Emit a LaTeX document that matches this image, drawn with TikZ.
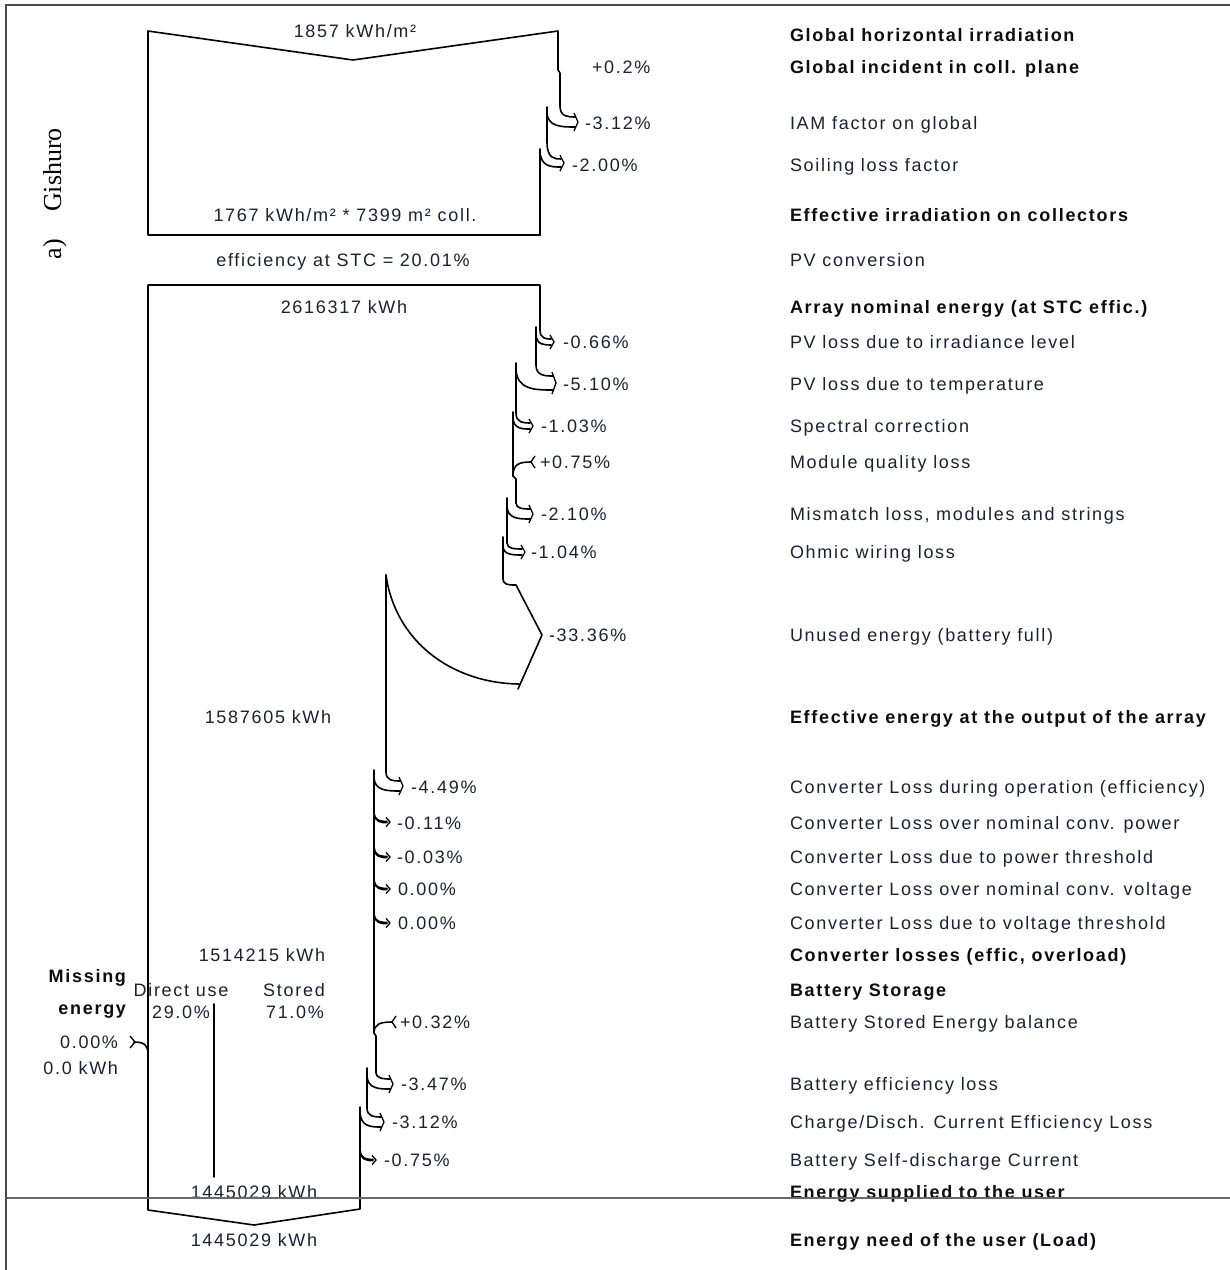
\documentclass[tikz,border=0pt]{standalone}
\usepackage{fontspec}
\setmainfont{Liberation Sans}[LetterSpace=9.5]
\newfontfamily\figlabelfont{Liberation Serif}
\definecolor{ink}{RGB}{30,32,50}
\definecolor{inkdark}{RGB}{12,12,18}
\definecolor{rulegray}{RGB}{105,105,105}
\definecolor{framegray}{RGB}{75,75,75}

% loss arrow: old edge x, y where it bends; new edge x, y where it bends;
% tip x, tip y, half width of the band at the tip
\newcommand\pvloss[7]{%
  \draw[flow] (#1,#2) .. controls (#1,{#6-#7}) and ({(#1+#5)/2},{#6-#7}) .. ({#5-2},{#6-#7});
  \draw[flow] (#3,#4) .. controls (#3,{#6+#7}) and ({(#3+#5)/2},{#6+#7}) .. ({#5-2},{#6+#7});
  \draw[tipline] ({#5-3},{#6-#7-4}) -- ({#5+1},#6) -- ({#5-3},{#6+#7+4});
}
% thin loss: a single bent line with a head
\newcommand\pvsmall[4]{\pvloss{#1}{#2}{#1}{#2}{#3}{#4}{0.6}}
% gain entering from the right: edge x, edge y, tip x, tip y
\newcommand\pvgain[4]{%
  \draw[flow] (#1,#2) .. controls (#1,{#4+2}) and ({#1+6},#4) .. (#3,#4);
  \draw[tipline] ({#3+4},{#4-6}) -- (#3,#4) -- ({#3+4},{#4+6});
}

\begin{document}
\begin{tikzpicture}[x=1pt,y=-1pt,
  flow/.style={line width=1.6pt, line join=round, line cap=round},
  tipline/.style={line width=1.3pt, line join=miter},
  txt/.style={inner sep=0pt, outer sep=0pt, text=ink, font=\fontsize{18}{21}\selectfont},
  bold/.style={txt, text=inkdark, font=\fontsize{18}{21}\selectfont\bfseries},
  lbl/.style={txt, anchor=base west},
  blbl/.style={bold, anchor=base west},
  val/.style={txt, anchor=base},
  side/.style={rotate=90, anchor=base, inner sep=0pt, text=black,
               font=\figlabelfont\fontsize{26}{29}\selectfont},
]
\fill[white] (0,0) rectangle (1230,1270);
\useasboundingbox (0,0) rectangle (1230,1270);

% panel caption
\node[side] (cap)  at (61,249) {a)};
\node[side] (site) at (61,170) {Gishuro};

% ---- irradiation block ----
\draw[flow] (540,235) -- (148,235) -- (148,31) -- (353,60) -- (558,31)
            -- (558,70) -- (560,73) -- (560,106);
\pvloss{560}{106}{547}{112}{577}{122}{5}
\draw[flow] (547,107) -- (547,142);
\pvloss{547}{142}{540}{150}{563}{163}{4}
\draw[flow] (540,149) -- (540,235);

% ---- energy block ----
\draw[flow] (540,330) -- (540,285) -- (148,285) -- (148,1210)
            -- (254,1225) -- (360,1209) -- (360,1107);
\pvloss{540}{330}{536}{334}{553}{342}{3}
\draw[flow] (536,327) -- (536,365);
\pvloss{536}{365}{516}{368}{555}{383}{7}
\draw[flow] (516,363) -- (516,413);
\pvloss{516}{413}{513}{417}{532}{426}{3}
\draw[flow] (513,412) -- (513,476) -- (516,479) -- (516,503);
\pvgain{513}{476}{531}{462}
\pvloss{516}{503}{507}{506}{532}{514}{5}
\draw[flow] (507,498) -- (507,543);
\pvloss{507}{543}{503}{546}{524}{552}{3}
\draw[flow] (503,537) -- (503,578);
% unused energy (battery full)
\draw[flow] (503,578) .. controls (503,585) and (508,585) .. (516,585)
            -- (542,635) -- (518,689);
\draw[flow] (386,575) .. controls (395,640) and (450,683) .. (519,684);
\draw[flow] (386,575) -- (386,772);
% converter losses
\pvloss{386}{772}{374}{777}{402}{786}{5}
\draw[flow] (374,770) -- (374,1033) -- (376,1036) -- (376,1072);
\pvsmall{374}{812}{389}{822}
\pvsmall{374}{846}{389}{857}
\pvsmall{374}{879}{389}{889}
\pvsmall{374}{913}{389}{923}
% battery
\pvgain{374}{1033}{392}{1022}
\pvloss{376}{1072}{367}{1075}{392}{1084}{5}
\draw[flow] (367,1068) -- (367,1108);
\pvloss{367}{1108}{360}{1111}{383}{1122}{5}
\pvsmall{360}{1149}{375}{1160}
% missing energy
\draw[flow] (148,1054) .. controls (148,1045) and (144,1042) .. (134,1042);
\draw[tipline] (130,1036) -- (135,1042) -- (130,1048);
% direct use
\draw[flow] (214,1004) -- (214,1177);

% ---- values inside the flow ----
\node[val] (v1) at (355,37)   {1857 kWh/m²};
\node[val] (v2) at (345,221)  {1767 kWh/m² * 7399 m² coll.};
\node[val] (v3) at (343,266)  {efficiency at STC = 20.01\%};
\node[val] (v4) at (344,313)  {2616317 kWh};
\node[val] (v5) at (268,723)  {1587605 kWh};
\node[val] (v6) at (262,961)  {1514215 kWh};
\node[val] (v7) at (254,1198) {1445029 kWh};
\node[val] (v8) at (254,1246) {1445029 kWh};

\node[bold, anchor=base east] (m1) at (126,982)  {Missing};
\node[bold, anchor=base east] (m2) at (126,1014) {energy};
\node[txt, anchor=base east]  (m3) at (118,1048) {0.00\%};
\node[txt, anchor=base east]  (m4) at (118,1074) {0.0 kWh};
\node[val] (d1) at (181,996)  {Direct use};
\node[val] (d2) at (181,1018) {29.0\%};
\node[val] (s1) at (294,996)  {Stored};
\node[val] (s2) at (295,1018) {71.0\%};

% ---- percentages ----
\node[lbl] (p1)  at (592,73)   {+0.2\%};
\node[lbl] (p2)  at (585,129)  {-3.12\%};
\node[lbl] (p3)  at (572,171)  {-2.00\%};
\node[lbl] (p4)  at (563,348)  {-0.66\%};
\node[lbl] (p5)  at (563,390)  {-5.10\%};
\node[lbl] (p6)  at (541,432)  {-1.03\%};
\node[lbl] (p7)  at (540,468)  {+0.75\%};
\node[lbl] (p8)  at (541,520)  {-2.10\%};
\node[lbl] (p9)  at (531,558)  {-1.04\%};
\node[lbl] (p10) at (549,641)  {-33.36\%};
\node[lbl] (p11) at (411,793)  {-4.49\%};
\node[lbl] (p12) at (397,829)  {-0.11\%};
\node[lbl] (p13) at (397,863)  {-0.03\%};
\node[lbl] (p14) at (398,895)  {0.00\%};
\node[lbl] (p15) at (398,929)  {0.00\%};
\node[lbl] (p16) at (400,1028) {+0.32\%};
\node[lbl] (p17) at (401,1090) {-3.47\%};
\node[lbl] (p18) at (392,1128) {-3.12\%};
\node[lbl] (p19) at (384,1166) {-0.75\%};

% ---- descriptions ----
\node[blbl] (t1)  at (790,41)   {Global horizontal irradiation};
\node[blbl] (t2)  at (790,73)   {Global incident in coll. plane};
\node[lbl]  (t3)  at (790,129)  {IAM factor on global};
\node[lbl]  (t4)  at (790,171)  {Soiling loss factor};
\node[blbl] (t5)  at (790,221)  {Effective irradiation on collectors};
\node[lbl]  (t6)  at (790,266)  {PV conversion};
\node[blbl] (t7)  at (790,313)  {Array nominal energy (at STC effic.)};
\node[lbl]  (t8)  at (790,348)  {PV loss due to irradiance level};
\node[lbl]  (t9)  at (790,390)  {PV loss due to temperature};
\node[lbl]  (t10) at (790,432)  {Spectral correction};
\node[lbl]  (t11) at (790,468)  {Module quality loss};
\node[lbl]  (t12) at (790,520)  {Mismatch loss, modules and strings};
\node[lbl]  (t13) at (790,558)  {Ohmic wiring loss};
\node[lbl]  (t14) at (790,641)  {Unused energy (battery full)};
\node[blbl] (t15) at (790,723)  {Effective energy at the output of the array};
\node[lbl]  (t16) at (790,793)  {Converter Loss during operation (efficiency)};
\node[lbl]  (t17) at (790,829)  {Converter Loss over nominal conv. power};
\node[lbl]  (t18) at (790,863)  {Converter Loss due to power threshold};
\node[lbl]  (t19) at (790,895)  {Converter Loss over nominal conv. voltage};
\node[lbl]  (t20) at (790,929)  {Converter Loss due to voltage threshold};
\node[blbl] (t21) at (790,961)  {Converter losses (effic, overload)};
\node[blbl] (t22) at (790,996)  {Battery Storage};
\node[lbl]  (t23) at (790,1028) {Battery Stored Energy balance};
\node[lbl]  (t24) at (790,1090) {Battery efficiency loss};
\node[lbl]  (t25) at (790,1128) {Charge/Disch. Current Efficiency Loss};
\node[lbl]  (t26) at (790,1166) {Battery Self-discharge Current};
\node[blbl] (t27) at (790,1198) {Energy supplied to the user};
\node[blbl] (t28) at (790,1246) {Energy need of the user (Load)};

% ---- page rules ----
\draw[rulegray, line width=2.8pt] (6,1198) -- (1230,1198);
\draw[framegray, line width=1.5pt] (6,1270) -- (6,5) -- (1230,5);
\end{tikzpicture}
\end{document}
